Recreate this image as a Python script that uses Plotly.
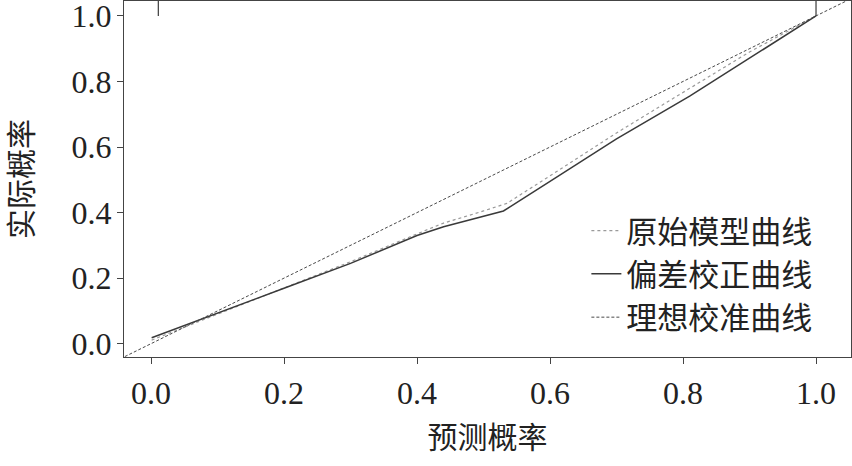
import plotly.graph_objects as go

pred_apparent = [0.001, 0.10, 0.20, 0.30, 0.40, 0.44, 0.50, 0.535, 0.60, 0.70, 0.81, 0.90, 1.00]
obs_apparent = [0.011, 0.090, 0.168, 0.250, 0.335, 0.368, 0.405, 0.428, 0.512, 0.643, 0.779, 0.890, 1.000]

pred_corrected = [0.001, 0.10, 0.20, 0.30, 0.40, 0.44, 0.50, 0.53, 0.60, 0.70, 0.81, 0.90, 1.00]
obs_corrected = [0.018, 0.094, 0.169, 0.245, 0.330, 0.357, 0.388, 0.405, 0.495, 0.625, 0.755, 0.870, 1.000]

ideal = [-0.1, 1.1]

rug_x = [0.011, 0.011, None, 1.0, 1.0]
rug_y = [1.0, 1.1, None, 1.0, 1.1]

names = ["原始模型曲线", "偏差校正曲线", "理想校准曲线"]
tick_vals = [0.0, 0.2, 0.4, 0.6, 0.8, 1.0]
tick_text = ["0.0", "0.2", "0.4", "0.6", "0.8", "1.0"]

FONT = "Liberation Serif, Noto Sans CJK SC, serif"
TXT = "#222222"

fig = go.Figure()
fig.add_trace(go.Scatter(x=pred_apparent, y=obs_apparent, mode="lines", name=names[0],
                         line=dict(color="#9a9a9a", width=1.2, dash="dot")))
fig.add_trace(go.Scatter(x=pred_corrected, y=obs_corrected, mode="lines", name=names[1],
                         line=dict(color="#3a3a3a", width=1.5)))
fig.add_trace(go.Scatter(x=ideal, y=ideal, mode="lines", name=names[2],
                         line=dict(color="#4a4a4a", width=1, dash="3px,2px")))
fig.add_trace(go.Scatter(x=rug_x, y=rug_y, mode="lines", showlegend=False,
                         line=dict(color="#3a3a3a", width=1.2)))

axis_common = dict(
    showgrid=False, zeroline=False, showline=True, linecolor="#444444", linewidth=1.2,
    mirror=True, ticks="outside", ticklen=6, tickcolor="#444444", tickwidth=1,
    tickvals=tick_vals, ticktext=tick_text, automargin=False, ticklabeloverflow="allow",
    tickfont=dict(family=FONT, size=32, color=TXT),
)

fig.update_xaxes(range=[-0.0406, 1.0526], title=dict(text="预测概率", font=dict(family=FONT, size=30, color=TXT), standoff=17),
                 ticklabelstandoff=1, **axis_common)
fig.update_yaxes(range=[-0.0406, 1.0455], title=dict(text="实际概率", font=dict(family=FONT, size=30, color=TXT), standoff=30),
                 ticklabelstandoff=-1, **axis_common)

fig.update_layout(
    width=852, height=466,
    margin=dict(l=124, r=1, t=1, b=109),
    plot_bgcolor="white", paper_bgcolor="white",
    font=dict(family=FONT, color=TXT),
    legend=dict(x=0.636, y=0.43, xanchor="left", yanchor="top",
                bgcolor="rgba(0,0,0,0)", font=dict(family=FONT, size=31, color=TXT),
                itemwidth=30, tracegroupgap=0),
    showlegend=True,
)

fig.write_html("out.html", config={"displayModeBar": False},
               post_script="document.body.style.margin='0';")
